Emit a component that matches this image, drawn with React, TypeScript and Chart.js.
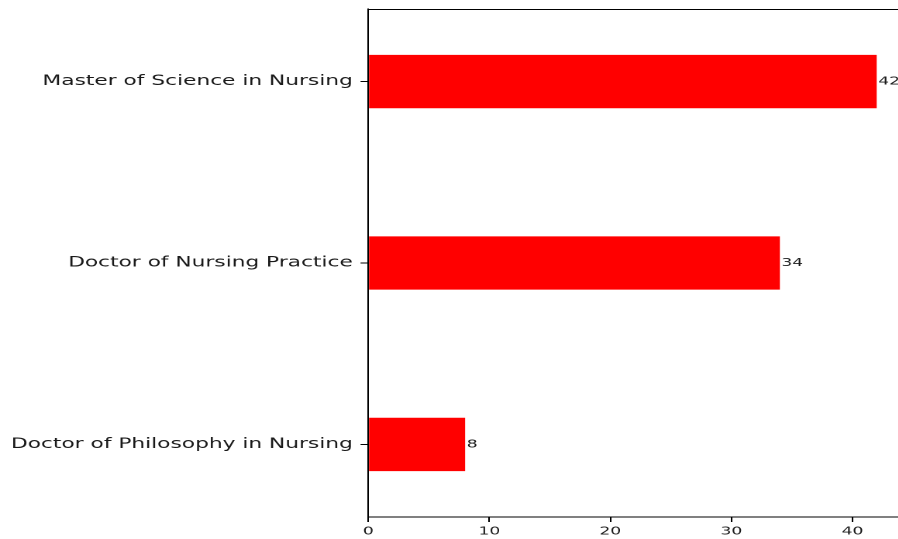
import React, { useEffect, useRef } from "react";
import { Chart, registerables } from "chart.js";

Chart.register(...registerables);

const categories = [
  "Master of Science in Nursing",
  "Doctor of Nursing Practice",
  "Doctor of Philosophy in Nursing",
];
const values = [42, 34, 8];
const xTicks = [0, 10, 20, 30, 40];

const STRETCH = 1.55;
const W = 582;
const H = 539;
const FONT = "'DejaVu Sans', sans-serif";
const TEXT = "#1a1a1a";

export default function App() {
  const ref = useRef<HTMLCanvasElement>(null);

  useEffect(() => {
    const canvas = ref.current!;
    const topSpine = {
      id: "topSpine",
      afterDraw(chart: any) {
        const { ctx, chartArea } = chart;
        ctx.save();
        ctx.strokeStyle = "#000";
        ctx.lineWidth = 1;
        ctx.beginPath();
        ctx.moveTo(chartArea.left, chartArea.top + 0.5);
        ctx.lineTo(chartArea.right, chartArea.top + 0.5);
        ctx.stroke();
        ctx.restore();
      },
    };
    const valueLabels = {
      id: "valueLabels",
      afterDatasetsDraw(chart: any) {
        const { ctx } = chart;
        const meta = chart.getDatasetMeta(0);
        ctx.save();
        ctx.font = `11px ${FONT}`;
        ctx.fillStyle = TEXT;
        ctx.textAlign = "left";
        ctx.textBaseline = "middle";
        meta.data.forEach((bar: any, i: number) => {
          ctx.fillText(String(values[i]), bar.x + 1, bar.y);
        });
        ctx.restore();
      },
    };

    const chart = new Chart(canvas, {
      type: "bar",
      data: {
        datasets: [
          {
            data: values.map((v, i) => ({ x: v, y: i })),
            backgroundColor: "#ff0000",
            borderWidth: 0,
            categoryPercentage: 1,
            barPercentage: 0.294,
          } as any,
        ],
      },
      options: {
        indexAxis: "y",
        responsive: false,
        animation: false,
        devicePixelRatio: 2,
        layout: { padding: { top: 9, left: 0, right: 0, bottom: 0 } },
        plugins: { legend: { display: false }, tooltip: { enabled: false } },
        scales: {
          x: {
            type: "linear",
            position: "bottom",
            min: 0,
            max: 44.1,
            offset: false,
            afterBuildTicks: (s: any) => {
              s.ticks = xTicks.map((v) => ({ value: v }));
            },
            afterFit: (s: any) => {
              s.height = 22;
              s.paddingLeft = 0;
              s.paddingRight = 0;
            },
            grid: {
              display: true,
              offset: false,
              drawOnChartArea: false,
              drawTicks: true,
              tickLength: 5,
              color: "#000",
              lineWidth: 1,
            },
            border: { display: true, color: "#000", width: 1 },
            ticks: {
              font: { family: FONT, size: 11 },
              color: TEXT,
              padding: 3,
              maxRotation: 0,
              autoSkip: false,
            },
          },
          y: {
            type: "linear",
            reverse: true,
            min: -0.4,
            max: 2.4,
            offset: false,
            afterBuildTicks: (s: any) => {
              s.ticks = categories.map((_, i) => ({ value: i }));
            },
            afterFit: (s: any) => {
              s.width = 237.6;
              s.paddingTop = 0;
              s.paddingBottom = 0;
            },
            grid: {
              display: true,
              offset: false,
              drawOnChartArea: false,
              drawTicks: true,
              tickLength: 5,
              color: "#000",
              lineWidth: 1,
            },
            border: { display: true, color: "#000", width: 1 },
            ticks: {
              callback: (v: any) => categories[v] ?? "",
              font: { family: FONT, size: 14 },
              color: TEXT,
              padding: 5,
              autoSkip: false,
            },
          },
        },
      } as any,
      plugins: [topSpine, valueLabels],
    });
    return () => chart.destroy();
  }, []);

  return (
    <div
      style={{
        position: "absolute",
        left: 0,
        top: 0,
        width: 898,
        height: 539,
        overflow: "hidden",
        background: "#fff",
      }}
    >
      <canvas
        ref={ref}
        width={W}
        height={H}
        style={{
          width: W,
          height: H,
          transform: `scaleX(${STRETCH})`,
          transformOrigin: "0 0",
          display: "block",
        }}
      />
    </div>
  );
}
